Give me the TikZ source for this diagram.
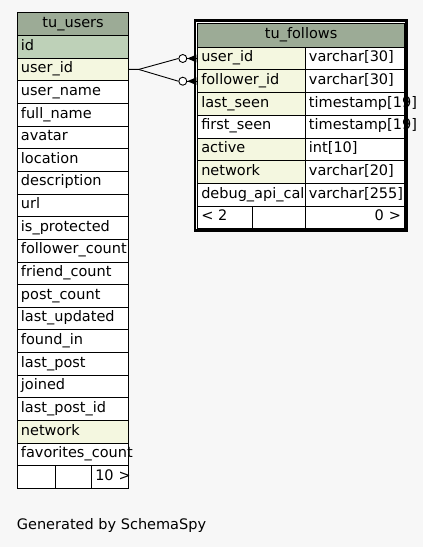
\documentclass[tikz,border=0pt]{standalone}
\usepackage{fontspec}
\setmainfont{DejaVu Sans}
\usetikzlibrary{calc}
\definecolor{bgc}{HTML}{F7F7F7}
\definecolor{hdr}{HTML}{9CAB96}
\definecolor{pkc}{HTML}{BED1B8}
\definecolor{fkc}{HTML}{F4F7E0}
\tikzset{
  cellbox/.style={draw=black, line width=0.9pt, fill=white, anchor=north west,
    inner xsep=3.5pt, inner ysep=0pt, minimum height=22.65pt,
    text height=10.6pt, text depth=4pt, align=left,
    font=\fontsize{14.5}{16}\selectfont},
  ucell/.style={cellbox, text width=104.3pt},
  fcellA/.style={cellbox, text width=100.7pt, minimum height=22.7pt},
  fcellB/.style={cellbox, text width=92pt, minimum height=22.7pt},
  odot/.style={circle, draw=black, line width=0.9pt, fill=white, minimum size=8pt, inner sep=0pt},
  conn/.style={draw=black, line width=0.9pt},
}
\begin{document}
\begin{tikzpicture}[x=1pt,y=-1pt]
\fill[bgc] (0,0) rectangle (423,547);
\useasboundingbox (0,0) rectangle (423,547);

% ---------- tu_users ----------
\node[ucell, fill=hdr, align=center, minimum height=23.5pt] (uh) at (17,11.5) {\mbox{tu\_users}};
\foreach \t/\c [count=\i from 0] in {id/pkc, user\_id/fkc, user\_name/white, full\_name/white,
  avatar/white, location/white, description/white, url/white, is\_protected/white,
  follower\_count/white, friend\_count/white, post\_count/white, last\_updated/white,
  found\_in/white, last\_post/white, joined/white, last\_post\_id/white, network/fkc,
  favorites\_count/white}
{
  \node[ucell, fill=\c] (u\i) at (17,{35+22.65*\i}) {\mbox{\t}};
}
\node[cellbox, text width=31pt] (uf1) at (17,465.35) {};
\node[cellbox, text width=29pt] (uf2) at (55,465.35) {};
\node[cellbox, text width=30pt, align=right] (uf3) at (91.3,465.35) {\mbox{10 >}};

% ---------- tu_follows ----------
\draw[line width=2.6pt, fill=white] (195,20.4) rectangle (406.3,230.6);
\node[cellbox, fill=hdr, align=center, text width=199.7pt, minimum height=24pt] (fh) at (197.3,22.7) {\mbox{tu\_follows}};
\foreach \t/\c/\ty [count=\i from 0] in {user\_id/fkc/{varchar[30]}, follower\_id/fkc/{varchar[30]},
  last\_seen/fkc/{timestamp[19]}, first\_seen/white/{timestamp[19]}, active/fkc/{int[10]},
  network/fkc/{varchar[20]}, debug\_api\_call/white/{varchar[255]}}
{
  \node[fcellA, fill=\c] (f\i) at (197.3,{46.7+22.7*\i}) {\mbox{\t}};
  \node[fcellB] (t\i) at (305,{46.7+22.7*\i}) {\mbox{\ty}};
}
\node[cellbox, text width=48pt, minimum height=22.7pt] (ff1) at (197.3,205.6) {\mbox{< 2}};
\node[cellbox, text width=45.7pt, minimum height=22.7pt] (ff2) at (252.3,205.6) {};
\node[fcellB, align=right] (ff3) at (305,205.6) {\mbox{0 >}};

% ---------- connectors ----------
\node[odot] (c1) at ($(f0.west)+(-14.5,0)$) {};
\node[odot] (c2) at ($(f1.west)+(-14.5,0)$) {};
\coordinate (j) at ($(u1.east)+(9.5,0)$);
\draw[conn] (u1.east) -- (j) -- (c1.west);
\draw[conn] (j) -- (c2.west);
\draw[conn] (c1.east) -- (f0.west);
\draw[conn] (c2.east) -- (f1.west);
\fill[black] (c1.east) -- ($(f0.west)+(-1,3.8)$) -- ($(f0.west)+(-1,-3.8)$) -- cycle;
\fill[black] (c2.east) -- ($(f1.west)+(-1,3.8)$) -- ($(f1.west)+(-1,-3.8)$) -- cycle;

% ---------- caption ----------
\node[anchor=base west, inner sep=0pt, font=\fontsize{14.5}{16}\selectfont] (gen) at (16.7,529) {Generated by SchemaSpy};
\end{tikzpicture}
\end{document}
